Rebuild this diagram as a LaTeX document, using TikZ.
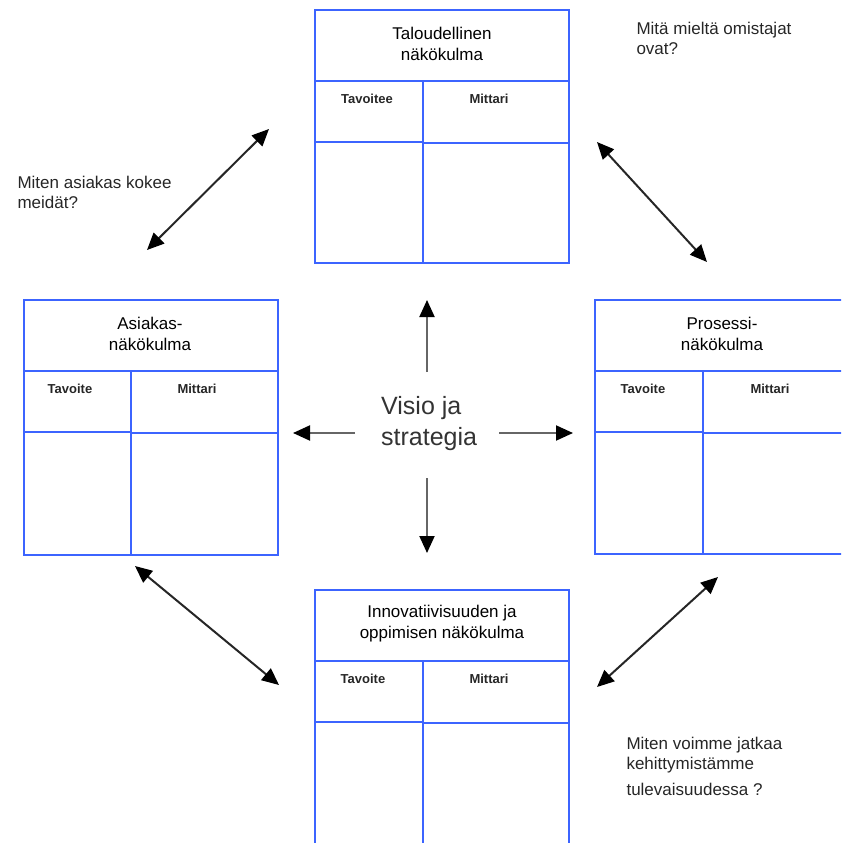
\documentclass[tikz,border=0pt]{standalone}
\usepackage{fontspec}
\setmainfont{Liberation Sans}
\usetikzlibrary{arrows.meta}
\definecolor{boxblue}{RGB}{60,100,255}
\begin{document}
\begin{tikzpicture}[x=1pt,y=-1pt,
  boxline/.style={draw=boxblue,line width=1.7pt},
  thickline/.style={draw=boxblue,line width=2.8pt},
  frame/.style={draw=boxblue,line width=1.7pt,inner sep=0pt,anchor=north west},
  head/.style={font=\fontsize{17}{21}\selectfont,align=center,text=black},
  cell/.style={font=\bfseries\fontsize{13}{15}\selectfont,text=black!85},
  note/.style={font=\fontsize{17}{20}\selectfont,align=left,anchor=west,text=black!85},
  carrow/.style={draw=black!60,line width=2pt,-{Triangle[length=17pt,width=15pt,color=black]}},
  darrow/.style={draw=black!85,line width=2pt,{Triangle[length=17pt,width=15pt,color=black]}-{Triangle[length=17pt,width=15pt,color=black]}}]
\path[use as bounding box] (0,0) rectangle (841,843);
\clip (0,0) rectangle (841,843);

% ---- top box
\node[frame,minimum width=254pt,minimum height=253pt] (tbox) at (314,9) {};
\draw[boxline] (314,81) -- (568,81);
\draw[thickline] (314,142) -- (423,142);
\draw[boxline] (423,143) -- (568,143);
\draw[boxline] (423,81) -- (423,262);
\node[head] (thead) at (442,43.5) {Taloudellinen\\näkökulma};
\node[cell] (tgoal) at (367,99) {Tavoitee};
\node[cell] (tmeas) at (489,99) {Mittari};

% ---- left box
\node[frame,minimum width=254pt,minimum height=255pt] (lbox) at (23,299) {};
\draw[boxline] (23,371) -- (277,371);
\draw[thickline] (23,432) -- (131,432);
\draw[boxline] (131,433) -- (277,433);
\draw[boxline] (131,371) -- (131,554);
\node[head] (lhead) at (150,333.5) {Asiakas-\\näkökulma};
\node[cell] (lgoal) at (70,389) {Tavoite};
\node[cell] (lmeas) at (197,389) {Mittari};

% ---- right box
\node[frame,minimum width=255pt,minimum height=254pt] (rbox) at (594,299) {};
\draw[boxline] (594,371) -- (849,371);
\draw[thickline] (594,432) -- (703,432);
\draw[boxline] (703,433) -- (849,433);
\draw[boxline] (703,371) -- (703,553);
\node[head] (rhead) at (722,333.5) {Prosessi-\\näkökulma};
\node[cell] (rgoal) at (643,389) {Tavoite};
\node[cell] (rmeas) at (770,389) {Mittari};

% ---- bottom box
\node[frame,minimum width=254pt,minimum height=258pt] (bbox) at (314,589) {};
\draw[boxline] (314,661) -- (568,661);
\draw[thickline] (314,722) -- (423,722);
\draw[boxline] (423,723) -- (568,723);
\draw[boxline] (423,661) -- (423,847);
\node[head] (bhead) at (442,624) {Innovatiivisuuden ja\\oppimisen näkökulma};
\node[cell] (bgoal) at (363,679) {Tavoite};
\node[cell] (bmeas) at (489,679) {Mittari};

% ---- centre
\node[font=\fontsize{25}{31}\selectfont,align=left,anchor=west,text=black!80,inner sep=0pt] (vision) at (381,424) {Visio ja\\strategia};

\coordinate (uS) at (427,372); \coordinate (uE) at (427,300);
\coordinate (dS) at (427,478); \coordinate (dE) at (427,553);
\coordinate (rS) at (499,433); \coordinate (rE) at (573,433);
\coordinate (lS) at (355,433); \coordinate (lE) at (293,433);
\draw[carrow] (uS) -- (uE);
\draw[carrow] (dS) -- (dE);
\draw[carrow] (rS) -- (rE);
\draw[carrow] (lS) -- (lE);

% ---- diagonal arrows
\coordinate (tlA) at (147,250); \coordinate (tlB) at (269,129);
\coordinate (trA) at (597,142); \coordinate (trB) at (707,262);
\coordinate (brA) at (718,577); \coordinate (brB) at (597,687);
\coordinate (blA) at (135,566); \coordinate (blB) at (279,685);
\draw[darrow] (tlA) -- (tlB);
\draw[darrow] (trA) -- (trB);
\draw[darrow] (brA) -- (brB);
\draw[darrow] (blA) -- (blB);

% ---- notes
\node[note] (n1) at (14,192.5) {Miten asiakas kokee\\meidät?};
\node[note] (n2) at (633,38) {Mitä mieltä omistajat\\ovat?};
\node[note] (n3) at (623,766) {Miten voimme jatkaa\\kehittymistämme\\[6pt]tulevaisuudessa ?};
\end{tikzpicture}
\end{document}
